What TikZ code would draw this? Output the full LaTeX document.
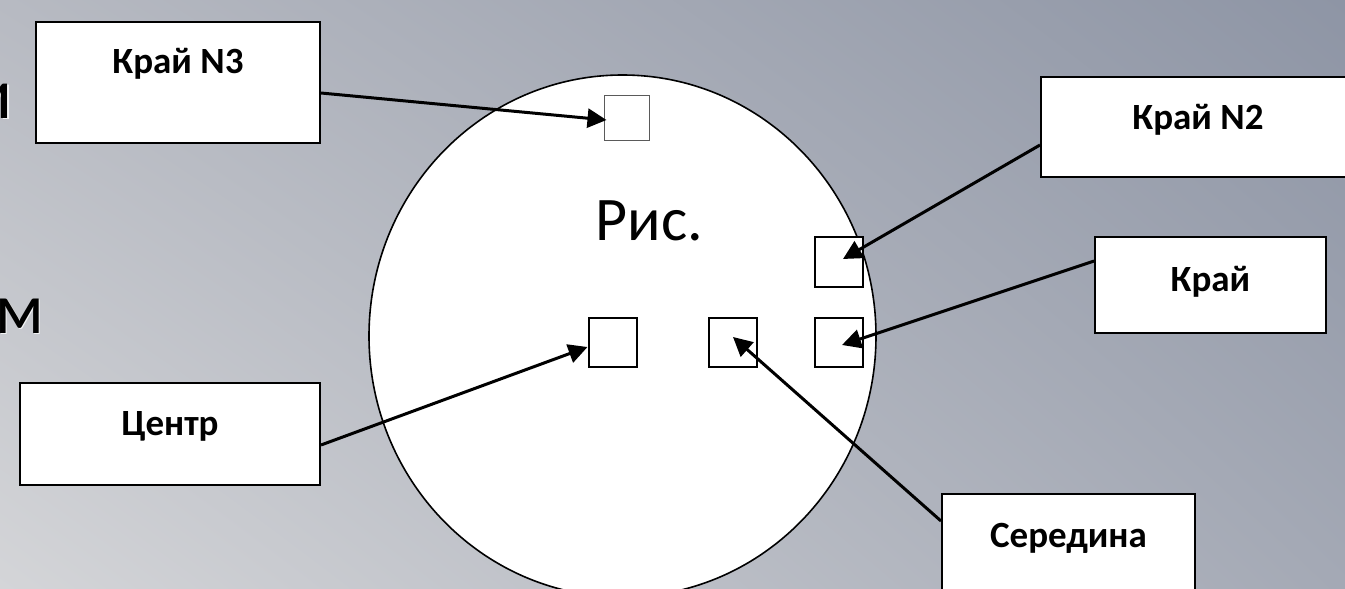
\documentclass[tikz,border=0pt]{standalone}
\usepackage{fontspec}
\setmainfont{Carlito}
\usetikzlibrary{arrows.meta,shapes.geometric,shadings}
\definecolor{bgLL}{HTML}{D4D5D8}
\definecolor{bgUL}{HTML}{B7BAC2}
\definecolor{bgLR}{HTML}{A4A9B5}
\definecolor{bgUR}{HTML}{8E95A5}
\definecolor{thingray}{HTML}{5A5A5A}
\begin{document}
\begin{tikzpicture}[x=1pt,y=-1pt,
  box/.style={draw=black, line width=2pt, fill=white, rectangle, inner sep=0pt},
  lbl/.style={font=\fontsize{37}{40}\selectfont\bfseries, inner sep=0pt, anchor=base},
  sq/.style={draw=black, line width=2pt, fill=white, rectangle, minimum width=48pt, minimum height=49pt, inner sep=0pt},
  conn/.style={line width=3pt, -{Triangle[length=19pt,width=19pt]}},
  bigletter/.style={font=\fontsize{72}{72}\selectfont, inner sep=0pt, anchor=base east},
]
\useasboundingbox (0,0) rectangle (1345,589);
\clip (0,0) rectangle (1345,589);
\shade[lower left=bgLL, upper left=bgUL, lower right=bgLR, upper right=bgUR] (0,0) rectangle (1345,589);

% cut-off letters at the left edge
\node[bigletter, text=white, opacity=0.8] at (14.5,119.5) {и};
\node[bigletter] (li) at (13,118) {и};
\node[bigletter, text=white, opacity=0.8] at (45.5,334.5) {м};
\node[bigletter] (lm) at (44,333) {м};

% the disc
\node[ellipse, draw=black, line width=1.6pt, fill=white, minimum width=507pt, minimum height=522pt, inner sep=0pt] (disc) at (622.5,336) {};
\node[font=\fontsize{62}{64}\selectfont, inner sep=0pt, anchor=base] (ris) at (649.5,240) {Рис.};

% small squares
\node[sq, draw=thingray, line width=1pt, minimum width=45pt, minimum height=45pt] (sqT) at (626.5,117.5) {};
\node[sq] (sqC) at (612.5,342) {};
\node[sq] (sqM) at (732.5,342) {};
\node[sq] (sqE) at (838.5,342) {};
\node[sq, minimum height=50pt] (sqE2) at (838.5,262) {};

% label boxes
\node[box, minimum width=284pt, minimum height=121pt] (bN3) at (178,82.5) {};
\node[lbl] at ([shift={(0,52)}]bN3.north) {Край N3};
\node[box, minimum width=300pt, minimum height=102pt] (bC) at (170,434) {};
\node[lbl] at ([shift={(0,53)}]bC.north) {Центр};
\node[box, minimum width=314pt, minimum height=100pt] (bN2) at (1198,127) {};
\node[lbl] at ([shift={(0,53)}]bN2.north) {Край N2};
\node[box, minimum width=231pt, minimum height=96pt] (bE) at (1210.5,285) {};
\node[lbl] at ([shift={(0,55)}]bE.north) {Край};
\node[box, minimum width=253pt, minimum height=110pt] (bM) at (1068.5,549) {};
\node[lbl] at ([shift={(0,54)}]bM.north) {Середина};

% connectors
\draw[conn] ([shift={(0,10.5)}]bN3.east) -- ([shift={(3,2.5)}]sqT.west);
\draw[conn] ([shift={(0,11)}]bC.east) -- ([shift={(0,5)}]sqC.west);
\draw[conn] ([shift={(0,28)}]bM.north west) -- ([shift={(0.5,-5)}]sqM.center);
\draw[conn] ([shift={(0,18)}]bN2.west) -- ([shift={(4.5,-3)}]sqE2.center);
\draw[conn] ([shift={(0,-24)}]bE.west) -- ([shift={(3.5,3)}]sqE.center);
\end{tikzpicture}
\end{document}
